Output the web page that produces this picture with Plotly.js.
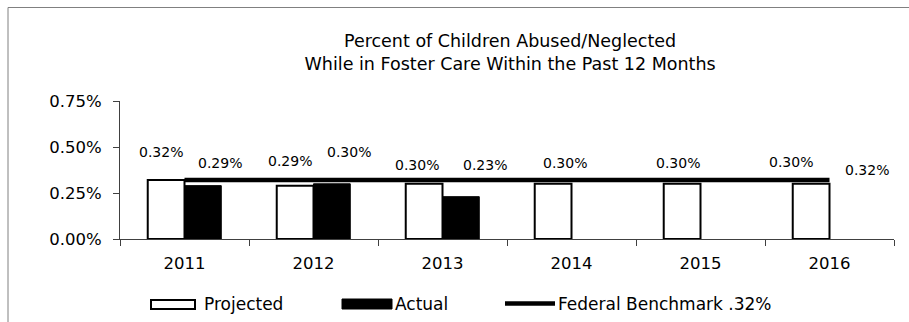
<!DOCTYPE html>
<html>
<head>
<meta charset="utf-8">
<script src="https://cdn.plot.ly/plotly-3.0.1.min.js"></script>
<style>
  html, body { margin: 0; padding: 0; background: #ffffff; }
  #chart { width: 909px; height: 322px; }
</style>
</head>
<body>
<div id="chart"></div>
<script>
// Fiscal years on the category axis
var years = ['2011', '2012', '2013', '2014', '2015', '2016'];

// Percent of children abused/neglected while in foster care (values in %)
var projected = [0.32, 0.29, 0.30, 0.30, 0.30, 0.30];
var actual = [0.29, 0.30, 0.23, null, null, null];
var benchmark = [0.32, 0.32, 0.32, 0.32, 0.32, 0.32];

var yTicks = [0, 0.25, 0.5, 0.75];

var seriesNames = ['Projected', 'Actual', 'Federal Benchmark .32%'];

// Pixel offsets of each data label from its category centre / value
var projLabelDx = [-24, -24, -25.5, -6.5, -22.5, -39];
var projLabelDy = [-28, -24.6, -18.8, -20.8, -20.8, -21.8];
var actLabelDx = [35.5, 35.5, 42.5];
var actLabelDy = [-22.6, -31.8, -31.7];

var FONT = 'DejaVu Sans, Liberation Sans, Arial, sans-serif';

// plot area in pixels: x 120..894, y 101..239
var L = 120, R = 15, T = 101, B = 83;
var PW = 909 - L - R, PH = 322 - T - B;
function px(x) { return (x - L) / PW; }
function py(y) { return (322 - B - y) / PH; }

function fmt(v) { return v.toFixed(2) + '%'; }

var traces = [
  {
    type: 'bar', name: seriesNames[0], x: years, y: projected,
    marker: { color: '#ffffff', line: { color: '#000000', width: 2 } },
    hoverinfo: 'x+y'
  },
  {
    type: 'bar', name: seriesNames[1], x: years, y: actual,
    marker: { color: '#000000', line: { color: '#000000', width: 1 } },
    hoverinfo: 'x+y'
  },
  {
    type: 'scatter', mode: 'lines', name: seriesNames[2], x: years, y: benchmark,
    line: { color: '#000000', width: 4.5 },
    hoverinfo: 'x+y'
  }
];

// annotations on a category axis are positioned by category index
var annotations = [];
var labelFont = { family: FONT, size: 14, color: '#000000' };
projected.forEach(function (v, i) {
  annotations.push({
    x: i, y: v, xref: 'x', yref: 'y', text: fmt(v), showarrow: false,
    xshift: projLabelDx[i], yshift: -projLabelDy[i], font: labelFont,
    xanchor: 'center', yanchor: 'middle'
  });
});
actual.forEach(function (v, i) {
  if (v === null) return;
  annotations.push({
    x: i, y: v, xref: 'x', yref: 'y', text: fmt(v), showarrow: false,
    xshift: actLabelDx[i], yshift: -actLabelDy[i], font: labelFont,
    xanchor: 'center', yanchor: 'middle'
  });
});
// benchmark value shown at the end of the line
var lastIdx = years.length - 1;
annotations.push({
  x: lastIdx, y: benchmark[lastIdx], xref: 'x', yref: 'y',
  text: fmt(benchmark[lastIdx]), showarrow: false,
  xshift: 37, yshift: 10, font: labelFont, xanchor: 'center', yanchor: 'middle'
});

// legend entries (swatch drawn as a shape, caption as text)
var legendFont = { family: FONT, size: 17, color: '#000000' };
var legendText = [
  { x: 203, label: seriesNames[0] },
  { x: 394, label: seriesNames[1] },
  { x: 557, label: seriesNames[2] }
];
legendText.forEach(function (e) {
  annotations.push({
    x: px(e.x), y: py(303.5), xref: 'paper', yref: 'paper', text: e.label,
    showarrow: false, xanchor: 'left', yanchor: 'middle', font: legendFont,
    borderpad: 0
  });
});

var shapes = [
  // outer chart frame
  { type: 'rect', xref: 'paper', yref: 'paper', x0: px(8), x1: px(920), y0: py(7.5), y1: py(340),
    line: { color: '#808080', width: 1 }, fillcolor: 'rgba(0,0,0,0)', layer: 'below' },
  // legend swatches
  { type: 'rect', xref: 'paper', yref: 'paper', x0: px(151), x1: px(195), y0: py(300), y1: py(309),
    line: { color: '#000000', width: 2 }, fillcolor: '#ffffff' },
  { type: 'rect', xref: 'paper', yref: 'paper', x0: px(342), x1: px(392), y0: py(299), y1: py(309),
    line: { color: '#000000', width: 1 }, fillcolor: '#000000' },
  { type: 'line', xref: 'paper', yref: 'paper', x0: px(505), x1: px(555), y0: py(303.5), y1: py(303.5),
    line: { color: '#000000', width: 4.5 } }
];

var layout = {
  width: 909, height: 322,
  margin: { l: L, r: R, t: T, b: B, pad: 0 },
  paper_bgcolor: '#ffffff', plot_bgcolor: '#ffffff',
  font: { family: FONT, color: '#000000' },
  title: {
    text: 'Percent of Children Abused/Neglected<br>While in Foster Care Within the Past 12 Months',
    font: { family: FONT, size: 17.5, color: '#000000' },
    x: 0.504, xref: 'paper', xanchor: 'center',
    y: 0.853, yref: 'container', yanchor: 'top'
  },
  barmode: 'group', bargap: 0.43, bargroupgap: 0,
  showlegend: false,
  xaxis: {
    type: 'category', categoryorder: 'array', categoryarray: years,
    range: [-0.5, years.length - 0.5], autorange: false,
    tickson: 'boundaries', ticks: 'outside', ticklen: 6, tickcolor: '#404040', tickwidth: 1,
    showline: true, linecolor: '#404040', linewidth: 1, showgrid: false, zeroline: false,
    tickfont: { family: FONT, size: 16.5, color: '#000000' },
    ticklabelstandoff: 9,
    fixedrange: true
  },
  yaxis: {
    range: [0, 0.75], autorange: false, tickvals: yTicks, ticktext: yTicks.map(fmt),
    ticks: 'outside', ticklen: 6, tickcolor: '#404040', tickwidth: 1,
    showline: true, linecolor: '#404040', linewidth: 1, showgrid: false, zeroline: false,
    tickfont: { family: FONT, size: 16.5, color: '#000000' },
    ticklabelstandoff: 8,
    fixedrange: true
  },
  annotations: annotations,
  shapes: shapes
};

Plotly.newPlot('chart', traces, layout, { displayModeBar: false, staticPlot: true });
</script>
</body>
</html>
